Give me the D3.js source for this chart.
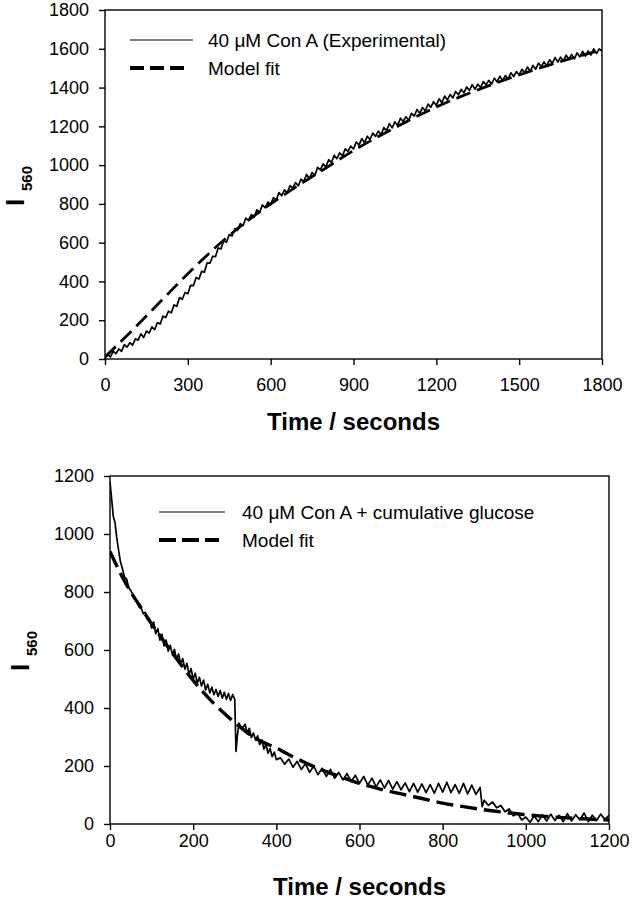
<!DOCTYPE html>
<html>
<head>
<meta charset="utf-8">
<script src="https://cdn.jsdelivr.net/npm/d3@7"></script>
<style>
  body { margin: 0; background: #fff; }
  svg text { font-family: "Liberation Sans", Arial, sans-serif; fill: #000; }
</style>
</head>
<body>
<svg id="chart" width="632" height="900"></svg>
<script>
// ---- top panel: 40 uM Con A, binding trace ----
const topTime = [0,10,20,30,40,50,60,70,80,90,100,110,120,130,140,150,160,170,180,190,
  200,210,220,230,240,250,260,270,280,290,300,310,320,330,340,350,360,370,380,390,
  400,410,420,430,440,450,460,470,480,490,500,510,520,530,540,550,560,570,580,590,
  600,610,620,630,640,650,660,670,680,690,700,710,720,730,740,750,760,770,780,790,
  800,810,820,830,840,850,860,870,880,890,900,910,920,930,940,950,960,970,980,990,
  1000,1010,1020,1030,1040,1050,1060,1070,1080,1090,1100,1110,1120,1130,1140,1150,1160,1170,1180,1190,
  1200,1210,1220,1230,1240,1250,1260,1270,1280,1290,1300,1310,1320,1330,1340,1350,1360,1370,1380,1390,
  1400,1410,1420,1430,1440,1450,1460,1470,1480,1490,1500,1510,1520,1530,1540,1550,1560,1570,1580,1590,
  1600,1610,1620,1630,1640,1650,1660,1670,1680,1690,1700,1710,1720,1730,1740,1750,1760,1770,1780,1790,1800];
const topExp = [5,22,11,40,27,52,39,74,61,84,71,104,97,130,111,144,134,166,152,188,
  180,221,214,247,238,279,272,317,308,343,336,380,378,420,412,452,448,496,494,530,
  528,572,568,610,602,642,634,672,664,698,688,727,714,745,730,769,756,795,780,809,
  796,832,820,858,842,872,857,894,881,910,893,928,915,952,931,962,947,988,975,1006,
  991,1028,1013,1050,1033,1064,1047,1084,1071,1098,1083,1119,1103,1137,1115,1149,1132,1165,1148,1175,
  1158,1194,1178,1214,1192,1224,1205,1242,1225,1250,1231,1267,1253,1287,1267,1297,1280,1315,1298,1327,
  1308,1342,1322,1356,1336,1364,1347,1380,1363,1390,1373,1403,1385,1415,1391,1417,1400,1431,1414,1437,
  1418,1448,1430,1458,1436,1462,1443,1476,1457,1482,1465,1494,1477,1506,1483,1514,1495,1526,1509,1532,
  1513,1543,1525,1555,1531,1557,1536,1567,1546,1571,1548,1579,1558,1587,1562,1589,1568,1599,1576,1599,1588];
const topFitTime = [0,100,200,300,400,500,600,700,800,900,1000,1100,1200,1300,1400,1500,1600,1700,1800];
const topFit = [10,150,295,440,575,695,800,895,985,1075,1155,1230,1300,1360,1415,1465,1512,1555,1595];

// ---- bottom panel: 40 uM Con A + cumulative glucose ----
const botTime = [0,4,8,12,16,20,25,30,35,40,45,50,55,60,65,70,75,80,85,90,95,
  100,105,110,115,120,125,130,135,140,145,150,155,160,165,170,175,180,185,190,195,
  200,205,210,215,220,225,230,235,240,245,250,255,260,265,270,275,280,285,290,295,
  300,303,306,310,315,320,325,330,335,340,345,350,355,360,365,370,375,380,385,390,395,
  400,410,420,430,440,450,460,470,480,490,500,510,520,530,540,550,560,570,580,590,
  600,610,620,630,640,650,660,670,680,690,700,710,720,730,740,750,760,770,780,790,
  800,810,820,830,840,850,860,870,880,890,895,900,910,920,930,940,950,960,970,980,990,
  1000,1010,1020,1030,1040,1050,1060,1070,1080,1090,1100,1110,1120,1130,1140,1150,1160,1170,1180,1190,1200];
const botExp = [1180,1120,1060,1040,990,950,905,880,850,845,815,805,790,775,770,748,745,725,730,705,708,
  676,696,656,674,634,654,614,634,596,616,584,602,566,586,552,570,534,554,516,536,
  499,520,486,506,476,496,462,482,452,472,446,464,440,460,434,454,430,450,426,446,
  430,250,300,348,334,334,344,314,330,298,314,290,304,274,290,258,274,244,260,232,248,
  222,228,206,224,196,216,188,208,178,200,170,192,164,188,158,178,152,174,146,168,
  140,164,134,158,128,152,124,150,120,146,118,142,112,140,110,138,108,136,106,140,
  110,144,108,136,106,140,104,134,102,126,60,82,64,76,56,64,42,52,28,38,14,
  24,6,28,8,32,10,34,12,30,8,36,10,32,14,38,8,30,12,34,16,30];
const botFitTime = [0,25,50,75,100,150,200,250,300,350,400,450,500,550,600,650,700,750,800,850,900,950,1000,1050,1100,1150,1200];
const botFit = [940,865,800,745,690,590,495,415,350,295,262,225,192,165,140,120,104,88,72,60,49,40,32,26,21,17,14];

const topXTicks = [0,300,600,900,1200,1500,1800];
const topYTicks = [0,200,400,600,800,1000,1200,1400,1600,1800];
const botXTicks = [0,200,400,600,800,1000,1200];
const botYTicks = [0,200,400,600,800,1000,1200];

const svg = d3.select('#chart');

function drawPanel(cfg) {
  const x = d3.scaleLinear().domain([0, cfg.xMax]).range([cfg.left, cfg.right]);
  const y = d3.scaleLinear().domain([0, cfg.yMax]).range([cfg.bottom, cfg.top]);
  const g = svg.append('g');

  const clipId = 'clip' + cfg.id;
  svg.append('clipPath').attr('id', clipId).append('rect')
    .attr('x', cfg.left).attr('y', cfg.top - 2)
    .attr('width', cfg.right - cfg.left).attr('height', cfg.bottom - cfg.top + 2);

  // axes
  const xAxis = g.append('g').attr('transform', 'translate(0,' + cfg.bottom + ')')
    .call(d3.axisBottom(x).tickValues(cfg.xTicks).tickFormat(d3.format('d'))
      .tickSize(6).tickPadding(cfg.xPad).tickSizeOuter(0));
  const yAxis = g.append('g').attr('transform', 'translate(' + cfg.left + ',0)')
    .call(d3.axisLeft(y).tickValues(cfg.yTicks).tickFormat(d3.format('d'))
      .tickSize(6).tickPadding(10).tickSizeOuter(0));
  [xAxis, yAxis].forEach(a => {
    a.select('.domain').remove();
    a.selectAll('line').attr('stroke', '#000').attr('stroke-width', 1.4);
    a.selectAll('text').attr('font-size', 18).attr('font-family', '"Liberation Sans", Arial, sans-serif');
  });

  g.append('rect')
    .attr('x', cfg.left).attr('y', cfg.top)
    .attr('width', cfg.right - cfg.left).attr('height', cfg.bottom - cfg.top)
    .attr('fill', 'none').attr('stroke', '#000').attr('stroke-width', 1.4);

  const plot = g.append('g').attr('clip-path', 'url(#' + clipId + ')');
  const expLine = d3.line().x((d, i) => x(cfg.expTime[i])).y(d => y(d));
  const fitLine = d3.line().x((d, i) => x(cfg.fitTime[i])).y(d => y(d)).curve(d3.curveMonotoneX);

  plot.append('path').datum(cfg.exp).attr('d', expLine)
    .attr('fill', 'none').attr('stroke', '#000').attr('stroke-width', 1.7).attr('stroke-linejoin', 'round');
  plot.append('path').datum(cfg.fit).attr('d', fitLine)
    .attr('fill', 'none').attr('stroke', '#000').attr('stroke-width', cfg.fitWidth)
    .attr('stroke-dasharray', cfg.dash);

  // legend
  const lg = g.append('g');
  lg.append('line').attr('x1', cfg.legX1).attr('x2', cfg.legX2).attr('y1', cfg.legY1).attr('y2', cfg.legY1)
    .attr('stroke', '#000').attr('stroke-width', 1.2);
  lg.append('line').attr('x1', cfg.legX1).attr('x2', cfg.legX2 - 6).attr('y1', cfg.legY2).attr('y2', cfg.legY2)
    .attr('stroke', '#000').attr('stroke-width', 4).attr('stroke-dasharray', cfg.legDash);
  lg.append('text').attr('x', cfg.legTextX).attr('y', cfg.legY1 + 7).attr('font-size', 19).text(cfg.label);
  lg.append('text').attr('x', cfg.legTextX).attr('y', cfg.legY2 + 7).attr('font-size', 19).text('Model fit');

  // axis titles
  g.append('text').attr('x', (cfg.left + cfg.right) / 2).attr('y', cfg.titleY)
    .attr('text-anchor', 'middle').attr('font-size', 24).attr('font-weight', 'bold')
    .text('Time / seconds');
  g.append('text').attr('transform', 'translate(' + (cfg.left - 81) + ',' + (cfg.yLabelY + 4) + ') rotate(-90)')
    .attr('font-size', 26).attr('font-weight', 'bold').text('I');
  g.append('text').attr('transform', 'translate(' + (cfg.left - 73) + ',' + (cfg.yLabelY - 11) + ') rotate(-90)')
    .attr('font-size', 15).attr('font-weight', 'bold').text('560');
}

drawPanel({
  id: 'top', left: 105, right: 602, top: 10, bottom: 359,
  xMax: 1800, yMax: 1800, xTicks: topXTicks, yTicks: topYTicks, xPad: 13,
  expTime: topTime, exp: topExp, fitTime: topFitTime, fit: topFit,
  fitWidth: 2.8, dash: '15,7', legDash: '14,6',
  legX1: 130, legX2: 193, legY1: 40, legY2: 68, legTextX: 208,
  label: '40 \u03BCM Con A (Experimental)', titleY: 430, yLabelY: 202
});

drawPanel({
  id: 'bot', left: 110, right: 609, top: 476, bottom: 824,
  xMax: 1200, yMax: 1200, xTicks: botXTicks, yTicks: botYTicks, xPad: 4,
  expTime: botTime, exp: botExp, fitTime: botFitTime, fit: botFit,
  fitWidth: 3.4, dash: '17,7', legDash: '17,6',
  legX1: 159, legX2: 225, legY1: 512, legY2: 540, legTextX: 242,
  label: '40 \u03BCM Con A + cumulative glucose', titleY: 895, yLabelY: 667
});
</script>
</body>
</html>
